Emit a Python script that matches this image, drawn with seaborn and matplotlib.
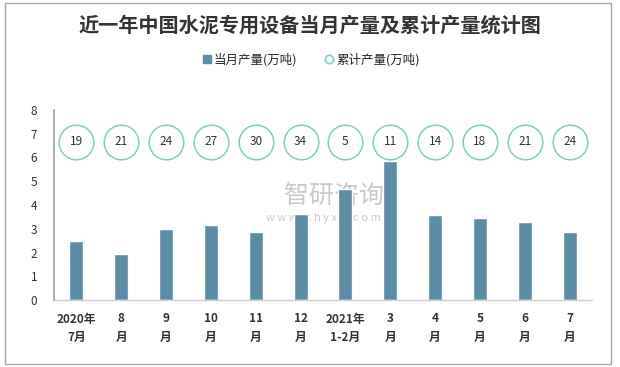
import pandas as pd
import seaborn as sns
import matplotlib.pyplot as plt
from matplotlib.lines import Line2D
from matplotlib.patches import Rectangle

# data
months = ['2020年\n7月', '8\n月', '9\n月', '10\n月', '11\n月', '12\n月',
          '2021年\n1-2月', '3\n月', '4\n月', '5\n月', '6\n月', '7\n月']
monthly_output = [2.48, 1.94, 2.99, 3.16, 2.86, 3.62, 4.67, 5.85, 3.58, 3.45, 3.28, 2.86]
cumulative_output = [19, 21, 24, 27, 30, 34, 5, 11, 14, 18, 21, 24]

bar_color = '#5B8EA6'
ring_color = '#7ECEC4'
circle_level = 6.67  # circles sit in a row near the top of the plot

sns.set_theme(style='white')
plt.rcParams['font.family'] = ['Noto Sans CJK SC', 'DejaVu Sans']

df = pd.DataFrame({'month': months, 'monthly': monthly_output, 'cumulative': cumulative_output})
df['pos'] = range(len(df))
df['level'] = circle_level

fig = plt.figure(figsize=(6.2, 3.67), dpi=100)
ax = fig.add_axes([54 / 620, 1 - 300 / 367, 538 / 620, 190 / 367])

# watermark behind the bars
ax.text(0.52, 0.55, '智研咨询', transform=ax.transAxes, ha='center', va='center',
        fontsize=18, color='#C9C9C9', zorder=0)
ax.text(0.5, 0.43, 'w w w . c h y x x . c o m', transform=ax.transAxes, ha='center',
        va='center', fontsize=8, color='#C9C9C9', zorder=0)

sns.barplot(data=df, x='pos', y='monthly', color=bar_color, width=0.31,
            saturation=1, ax=ax, zorder=2)
sns.scatterplot(data=df, x='pos', y='level', s=620, facecolor='white',
                edgecolor=ring_color, linewidth=1.1, ax=ax, zorder=3)
for i, v in enumerate(df['cumulative']):
    ax.text(i, circle_level, str(v), ha='center', va='center', fontsize=8.5,
            color='#333333', zorder=4)

ax.set_xlim(-0.5, len(months) - 0.5)
ax.set_ylim(0, 8)
ax.set_yticks(range(0, 9))
ax.set_xticks(range(len(months)))
ax.set_xticklabels(months, fontsize=8.5, fontweight='bold', color='#333333', linespacing=1.5)
ax.set_xticks([i - 0.5 for i in range(len(months) + 1)], minor=True)
ax.tick_params(axis='x', which='major', length=0, pad=9)
ax.tick_params(axis='x', which='minor', length=4, color='#D0D0D0', width=1, direction='out')
ax.tick_params(axis='y', length=0, labelsize=8.5, labelcolor='#333333', pad=12)
ax.set_xlabel('')
ax.set_ylabel('')
for s in ['top', 'right']:
    ax.spines[s].set_visible(False)
ax.spines['left'].set_visible(True)
ax.spines['left'].set_color('#A0A0A0')
ax.spines['left'].set_linewidth(1.2)
ax.spines['left'].set_zorder(5)
ax.spines['bottom'].set_color('#D0D0D0')
ax.spines['bottom'].set_linewidth(1)

fig.text(0.5, 1 - 25 / 367, '近一年中国水泥专用设备当月产量及累计产量统计图', ha='center', va='center',
         fontsize=14.5, fontweight='bold', color='#333333')

handles = [Line2D([], [], marker='s', linestyle='', color=bar_color, markersize=6),
           Line2D([], [], marker='o', linestyle='', markerfacecolor='white',
                  markeredgecolor=ring_color, markeredgewidth=1.2, markersize=6)]
fig.legend(handles, ['当月产量(万吨)', '累计产量(万吨)'], loc='center',
           bbox_to_anchor=(0.5, 1 - 60 / 367), ncol=2, frameon=False, fontsize=9,
           handletextpad=0.1, columnspacing=2.0, handlelength=1.0)

fig.add_artist(Rectangle((5 / 620, 3 / 367), 606 / 620, 361 / 367, transform=fig.transFigure,
                         fill=False, edgecolor='#A6A6A6', linewidth=1))

fig.savefig('out.png', dpi=100)
plt.close(fig)
